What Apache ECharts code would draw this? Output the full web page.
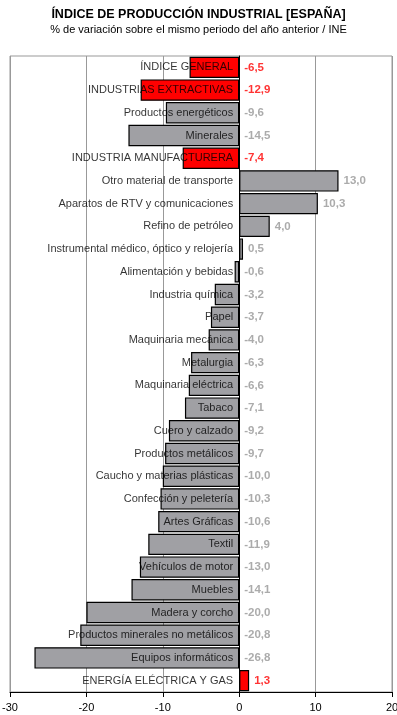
<!DOCTYPE html>
<html>
<head>
<meta charset="utf-8">
<script src="https://cdn.jsdelivr.net/npm/echarts@6/dist/echarts.min.js"></script>
<style>
html,body{margin:0;padding:0;background:#fff;}
#c{width:397px;height:715px;}
</style>
</head>
<body>
<div id="c"></div>
<script>
const titleText = 'ÍNDICE DE PRODUCCIÓN INDUSTRIAL [ESPAÑA]';
const subtitleText = '% de variación sobre el mismo periodo del año anterior / INE';

const categories = [
  'ÍNDICE GENERAL',
  'INDUSTRIAS EXTRACTIVAS',
  'Productos energéticos',
  'Minerales',
  'INDUSTRIA MANUFACTURERA',
  'Otro material de transporte',
  'Aparatos de RTV y comunicaciones',
  'Refino de petróleo',
  'Instrumental médico, óptico y relojería',
  'Alimentación y bebidas',
  'Industria química',
  'Papel',
  'Maquinaria mecánica',
  'Metalurgia',
  'Maquinaria eléctrica',
  'Tabaco',
  'Cuero y calzado',
  'Productos metálicos',
  'Caucho y materias plásticas',
  'Confección y peletería',
  'Artes Gráficas',
  'Textil',
  'Vehículos de motor',
  'Muebles',
  'Madera y corcho',
  'Productos minerales no metálicos',
  'Equipos informáticos',
  'ENERGÍA ELÉCTRICA Y GAS'
];

const values = [
  -6.5, -12.9, -9.6, -14.5, -7.4, 13.0, 10.3, 4.0, 0.5, -0.6,
  -3.2, -3.7, -4.0, -6.3, -6.6, -7.1, -9.2, -9.7, -10.0, -10.3,
  -10.6, -11.9, -13.0, -14.1, -20.0, -20.8, -26.8, 1.3
];

const aggregates = [
  'ÍNDICE GENERAL',
  'INDUSTRIAS EXTRACTIVAS',
  'INDUSTRIA MANUFACTURERA',
  'ENERGÍA ELÉCTRICA Y GAS'
];

const xTicks = [-30, -20, -10, 0, 10, 20];

const RED = '#ff0000';
const GRAY = '#a0a0a4';
const LABELGRAY = '#969696';
const FONT = 'Arial, "Liberation Sans", sans-serif';

const isAgg = c => aggregates.indexOf(c) >= 0;
const fmt = v => v.toFixed(1).replace('.', ',');

const barData = values.map((v, i) => ({
  value: v,
  itemStyle: { color: isAgg(categories[i]) ? RED : GRAY }
}));

const valueLabelData = values.map((v, i) => ({
  value: [Math.max(v, 0), categories[i]],
  raw: v,
  label: { color: isAgg(categories[i]) ? RED : LABELGRAY }
}));

const nameLabelData = categories.map(c => ({ value: [0, c], name: c }));

const chart = echarts.init(document.getElementById('c'), null, { renderer: 'canvas' });
chart.setOption({
  animation: false,
  backgroundColor: '#ffffff',
  title: [
    {
      text: titleText,
      left: 'center',
      top: 3,
      textStyle: { fontFamily: FONT, fontSize: 12.5, fontWeight: 'bold', color: '#000' }
    },
    {
      text: subtitleText,
      left: 'center',
      top: 19,
      textStyle: { fontFamily: FONT, fontSize: 11, fontWeight: 'normal', color: '#000' }
    }
  ],
  grid: {
    left: 10, right: 5, top: 56, bottom: 23,
    containLabel: false,
    outerBoundsMode: 'none',
    show: true, backgroundColor: '#fff', borderColor: '#999', borderWidth: 1
  },
  xAxis: {
    type: 'value',
    min: xTicks[0],
    max: xTicks[xTicks.length - 1],
    interval: 10,
    axisLine: { show: true, onZero: false, lineStyle: { color: '#000', width: 1 } },
    axisTick: { show: true, length: 5, lineStyle: { color: '#000' } },
    axisLabel: { fontFamily: FONT, fontSize: 11, color: '#000', margin: 10, showMinLabel: true, showMaxLabel: true },
    splitLine: { show: true, lineStyle: { color: '#999', width: 1 } }
  },
  yAxis: {
    type: 'category',
    data: categories,
    inverse: true,
    z: 10,
    axisLine: { show: true, onZero: true, lineStyle: { color: '#000', width: 1 } },
    axisTick: { show: false },
    axisLabel: { show: false },
    splitLine: { show: false }
  },
  series: [
    {
      type: 'bar',
      data: barData,
      barCategoryGap: '6%',
      itemStyle: { borderColor: '#000', borderWidth: 1.2 },
      z: 2
    },
    {
      type: 'scatter',
      data: nameLabelData,
      symbolSize: 0,
      z: 11,
      silent: true,
      label: {
        show: true,
        position: 'left',
        distance: 6,
        fontFamily: FONT,
        fontSize: 11,
        color: '#000',
        formatter: p => p.data.name
      }
    },
    {
      type: 'scatter',
      data: valueLabelData,
      symbolSize: 0,
      z: 11,
      silent: true,
      label: {
        show: true,
        position: 'right',
        distance: 5,
        fontFamily: FONT,
        fontSize: 11.5,
        fontWeight: 'bold',
        formatter: p => fmt(p.data.raw)
      }
    }
  ]
});
</script>
</body>
</html>
